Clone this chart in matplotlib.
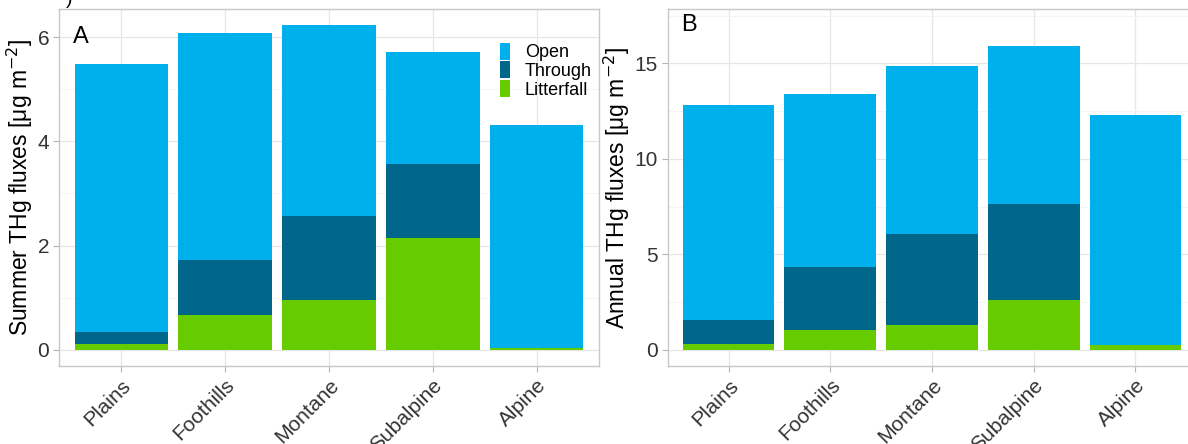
import matplotlib.pyplot as plt
import numpy as np
from matplotlib.ticker import MultipleLocator

plt.rcParams['font.family'] = ['Liberation Sans', 'DejaVu Sans']

zones = ["Plains", "Foothills", "Montane", "Subalpine", "Alpine"]

# stacked components (bottom to top): litterfall, throughfall, open
summer_litter = [0.12, 0.66, 0.95, 2.14, 0.03]
summer_through = [0.22, 1.06, 1.61, 1.43, 0.00]
summer_open = [5.14, 4.37, 3.67, 2.15, 4.28]

annual_litter = [0.32, 1.05, 1.30, 2.63, 0.25]
annual_through = [1.26, 3.27, 4.75, 5.03, 0.00]
annual_open = [11.26, 9.10, 8.79, 8.24, 12.07]

c_open = "#00B0EC"
c_through = "#00668A"
c_litter = "#66CC00"


def draw_panel(ax, litter, through, openf, label, label_y, ylabel, ymax, major, minor):
    x = np.arange(len(zones))
    litter = np.array(litter)
    through = np.array(through)
    openf = np.array(openf)
    ax.bar(x, litter, width=0.9, color=c_litter, label="Litterfall", zorder=3)
    ax.bar(x, through, width=0.9, bottom=litter, color=c_through, label="Through", zorder=3)
    ax.bar(x, openf, width=0.9, bottom=litter + through, color=c_open, label="Open", zorder=3)

    ax.text(-0.47, label_y, label, fontsize=17, va="center", ha="left", zorder=4)

    ax.set_xlim(-0.6, len(zones) - 0.4)
    pad = ymax * 0.05
    ax.set_ylim(-pad, ymax + pad)
    ax.set_xticks(x)
    ax.set_xticklabels(zones, rotation=45, ha="right", rotation_mode="anchor")
    ax.yaxis.set_major_locator(MultipleLocator(major))
    ax.yaxis.set_minor_locator(MultipleLocator(minor))
    ax.grid(which="major", color="#E6E6E6", linewidth=0.9, zorder=0)
    ax.grid(which="minor", axis="y", color="#F2F2F2", linewidth=0.6, zorder=0)
    ax.tick_params(axis="both", which="major", length=4, color="#B3B3B3",
                   labelsize=15, labelcolor="#333333", pad=3)
    ax.tick_params(axis="y", which="minor", length=0)
    for s in ax.spines.values():
        s.set_color("#C8C8C8")
        s.set_linewidth(1.0)
    ax.set_ylabel(ylabel, fontsize=16.5, labelpad=2)
    ax.set_axisbelow(True)


fig = plt.figure(figsize=(11.88, 4.44), dpi=100)
ax1 = fig.add_axes([59 / 1188, 78 / 444, 540 / 1188, 357 / 444])
ax2 = fig.add_axes([667.5 / 1188, 78 / 444, 529 / 1188, 357 / 444])

draw_panel(ax1, summer_litter, summer_through, summer_open, "A", 6,
           r"Summer THg fluxes [$\mathregular{\mu}$g m$^{-2}$]", 6.23, 2, 1)
draw_panel(ax2, annual_litter, annual_through, annual_open, "B", 17,
           r"Annual THg fluxes [$\mathregular{\mu}$g m$^{-2}$]", 17, 5, 2.5)

handles, labels = ax1.get_legend_handles_labels()
ax1.legend(handles[::-1], labels[::-1], loc="upper left", bbox_to_anchor=(0.816, 0.905),
           frameon=False, fontsize=13, handlelength=0.6, handleheight=1.05,
           labelspacing=0.0, handletextpad=0.8, borderpad=0, borderaxespad=0)

# leftover of the figure caption cut at the top edge
fig.text(66 / 1188, 1 - 8 / 444, ")", fontsize=14, va="bottom", ha="left")

fig.savefig("out.png", dpi=100)
